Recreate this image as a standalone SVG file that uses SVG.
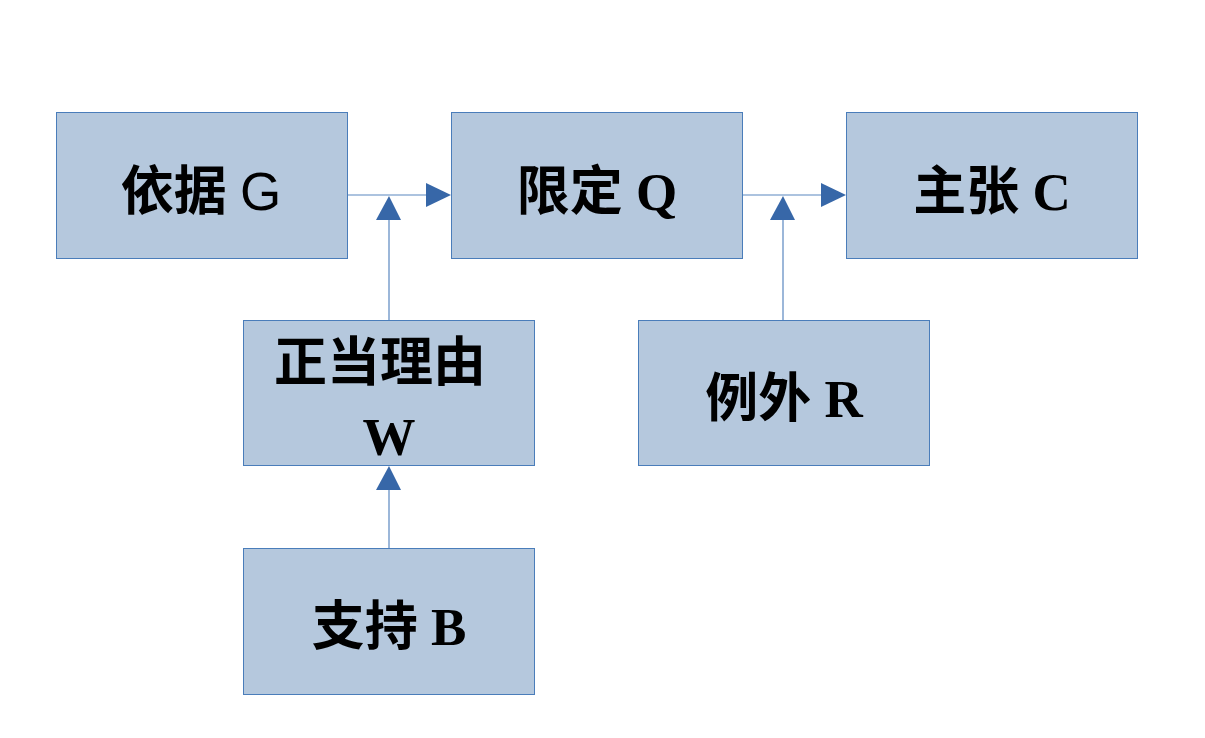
<svg xmlns="http://www.w3.org/2000/svg" width="1205" height="738" viewBox="0 0 1205 738">
  <style>
    .box { fill: #B5C8DD; stroke: #4A7DBA; stroke-width: 1; }
    .lbl { font-family: "Liberation Serif", "Noto Sans CJK SC", serif; font-weight: bold; font-size: 53px; fill: #000; text-anchor: middle; }
    .sans { font-family: "Liberation Sans", "Noto Sans CJK SC", sans-serif; font-weight: normal; }
    .wire { stroke: #5A87C0; stroke-width: 1.2; fill: none; }
    .head { fill: #3767A8; }
  </style>
  <rect width="1205" height="738" fill="#fff"/>

  <g id="connectors">
    <!-- G -> Q -->
    <line class="wire" x1="347" y1="195" x2="427" y2="195"/>
    <polygon class="head" points="426,183 451,195 426,207"/>
    <!-- W -> G/Q link -->
    <line class="wire" x1="389" y1="320" x2="389" y2="219"/>
    <polygon class="head" points="376,220 389,196 401,220"/>
    <!-- Q -> C -->
    <line class="wire" x1="742" y1="195" x2="822" y2="195"/>
    <polygon class="head" points="821,183 846,195 821,207"/>
    <!-- R -> Q/C link -->
    <line class="wire" x1="783" y1="320" x2="783" y2="219"/>
    <polygon class="head" points="770,220 783,196 795,220"/>
    <!-- B -> W -->
    <line class="wire" x1="389" y1="548" x2="389" y2="489"/>
    <polygon class="head" points="376,490 389,466 401,490"/>
  </g>

  <g id="node-g">
    <rect class="box" x="56.5" y="112.5" width="291" height="146"/>
    <text class="lbl" x="201" y="210">依据 <tspan class="sans">G</tspan></text>
  </g>
  <g id="node-q">
    <rect class="box" x="451.5" y="112.5" width="291" height="146"/>
    <text class="lbl" x="597" y="210">限定 Q</text>
  </g>
  <g id="node-c">
    <rect class="box" x="846.5" y="112.5" width="291" height="146"/>
    <text class="lbl" x="992" y="210">主张 C</text>
  </g>
  <g id="node-w">
    <rect class="box" x="243.5" y="320.5" width="291" height="145"/>
    <text class="lbl" x="380" y="381">正当理由</text>
    <text class="lbl" x="389" y="455">W</text>
  </g>
  <g id="node-r">
    <rect class="box" x="638.5" y="320.5" width="291" height="145"/>
    <text class="lbl" x="784" y="417">例外 R</text>
  </g>
  <g id="node-b">
    <rect class="box" x="243.5" y="548.5" width="291" height="146"/>
    <text class="lbl" x="389" y="645">支持 B</text>
  </g>
</svg>
